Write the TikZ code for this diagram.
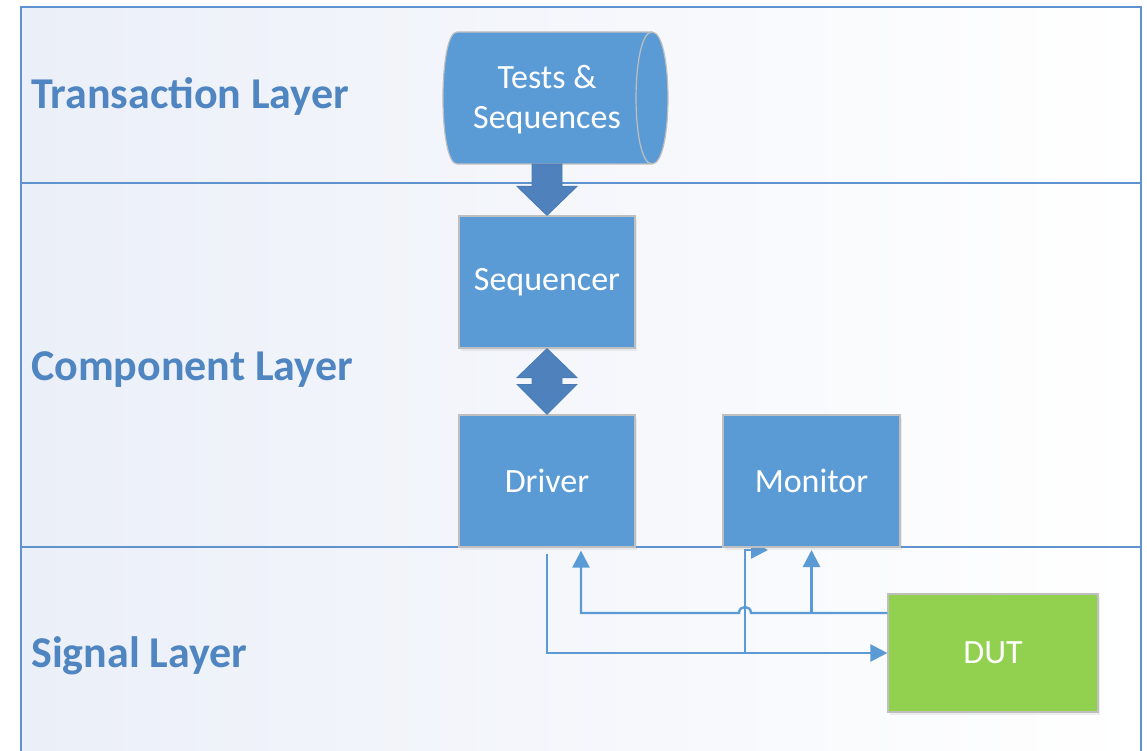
\documentclass[tikz,border=0pt]{standalone}
\usepackage{fontspec}
\setmainfont{Carlito}
\usetikzlibrary{arrows.meta,calc,shadows}
\definecolor{boxblue}{HTML}{5B9BD5}
\definecolor{arrowblue}{HTML}{4F81BD}
\definecolor{arrowedge}{HTML}{4A7BB5}
\definecolor{linkblue}{HTML}{5B9BD5}
\definecolor{framebl}{HTML}{5E93CF}
\definecolor{labelbl}{HTML}{4F85C0}
\definecolor{dutgreen}{HTML}{92D050}
\definecolor{edgegray}{HTML}{BFBFBF}
\definecolor{bandtint}{HTML}{EBEFF8}

\begin{document}
\begin{tikzpicture}[x=1pt,y=-1pt,
  unit/.style={draw=edgegray, line width=1.2pt, fill=boxblue, text=white,
    font=\fontsize{34}{40}\selectfont, inner sep=0pt,
    minimum width=176pt, minimum height=132pt,
    drop shadow={opacity=0.12, shadow xshift=2pt, shadow yshift=-3pt}},
  layerlabel/.style={anchor=base west, text=labelbl, inner sep=0pt,
    font=\fontsize{44}{52}\selectfont\bfseries},
  band/.style={left color=bandtint, right color=white},
  divider/.style={draw=framebl, line width=1.8pt},
  conn/.style={draw=linkblue, line width=2.3pt},
  tip/.style={-{Triangle[length=17pt,width=17pt]}},
  blockarrow/.style={fill=arrowblue, draw=arrowedge, line width=0.8pt, line join=miter}
]
\useasboundingbox (0,0) rectangle (1147,751);
\clip (0,0) rectangle (1147,751);

% layer bands
\shade[band] (21,7) rectangle (1141,183);
\shade[band] (21,183) rectangle (1141,547);
\shade[band] (21,547) rectangle (1141,760);

% frame and layer dividers
\draw[divider] (21,760) -- (21,7) -- (1141,7) -- (1141,760);
\draw[divider] (21,183) -- (1141,183);
\draw[divider] (21,547) -- (1141,547);

% layer titles
\node[layerlabel] (tl) at (31,109) {Transaction Layer};
\node[layerlabel] (cl) at (31,380) {Component Layer};
\node[layerlabel] (sl) at (31,667) {Signal Layer};

% tests & sequences (horizontal cylinder)
\filldraw[fill=boxblue, draw=edgegray, line width=1.2pt]
  (457,32) -- (652,32) .. controls (673.3,32) and (673.3,164) .. (652,164)
  -- (457,164) .. controls (438.3,164) and (438.3,32) .. (457,32) -- cycle;
\draw[edgegray, line width=1.2pt]
  (652,32) .. controls (630.7,32) and (630.7,164) .. (652,164);
\node[text=white, align=center, font=\fontsize{34}{40}\selectfont] (tests) at (547,100)
  {Tests \&\\Sequences};
\coordinate (testsbot) at (547,164);

% component boxes
\node[unit] (seq) at (547,282) {Sequencer};
\node[unit] (drv) at (547,481) {Driver};
\node[unit, fill=dutgreen, minimum width=210pt, minimum height=118pt] (dut) at (993,653) {DUT};
\coordinate (mon) at (811.5,481);
\coordinate (mon south) at (811.5,547);
\coordinate (mon south west) at (723,547);

% block arrow: tests -> sequencer
\filldraw[blockarrow]
  ($(testsbot)+(-15,0)$) -- ($(seq.north)+(-15,-29)$) -- ($(seq.north)+(-30,-29)$)
  -- (seq.north) -- ($(seq.north)+(30,-29)$) -- ($(seq.north)+(15,-29)$)
  -- ($(testsbot)+(15,0)$) -- cycle;

% double block arrow: sequencer <-> driver
\filldraw[blockarrow]
  (seq.south) -- ($(seq.south)+(30,29)$) -- ($(seq.south)+(15,29)$)
  -- ($(drv.north)+(15,-30)$) -- ($(drv.north)+(30,-30)$) -- (drv.north)
  -- ($(drv.north)+(-30,-30)$) -- ($(drv.north)+(-15,-30)$)
  -- ($(seq.south)+(-15,29)$) -- ($(seq.south)+(-30,29)$) -- cycle;

% signal connectors
\coordinate (fb) at ($(dut.west)+(0,-40)$);
\coordinate (tap) at (745,653);
\draw[conn, tip] ($(drv.south)+(0,6)$) |- (dut.west);
\draw[conn, tip] (fb) -- (751,613) .. controls (751,605) and (739,605) .. (739,613)
  -| ($(drv.south)+(34,3)$);
\draw[conn, tip] (mon south |- fb) -- ($(mon south)+(0,3)$);
\draw[conn, tip] (tap) |- ($(mon south west)+(45,3)$);

% monitor box, drawn over the end of its input stub
\node[unit, minimum width=177pt] (monitor) at (mon) {Monitor};
\end{tikzpicture}
\end{document}
